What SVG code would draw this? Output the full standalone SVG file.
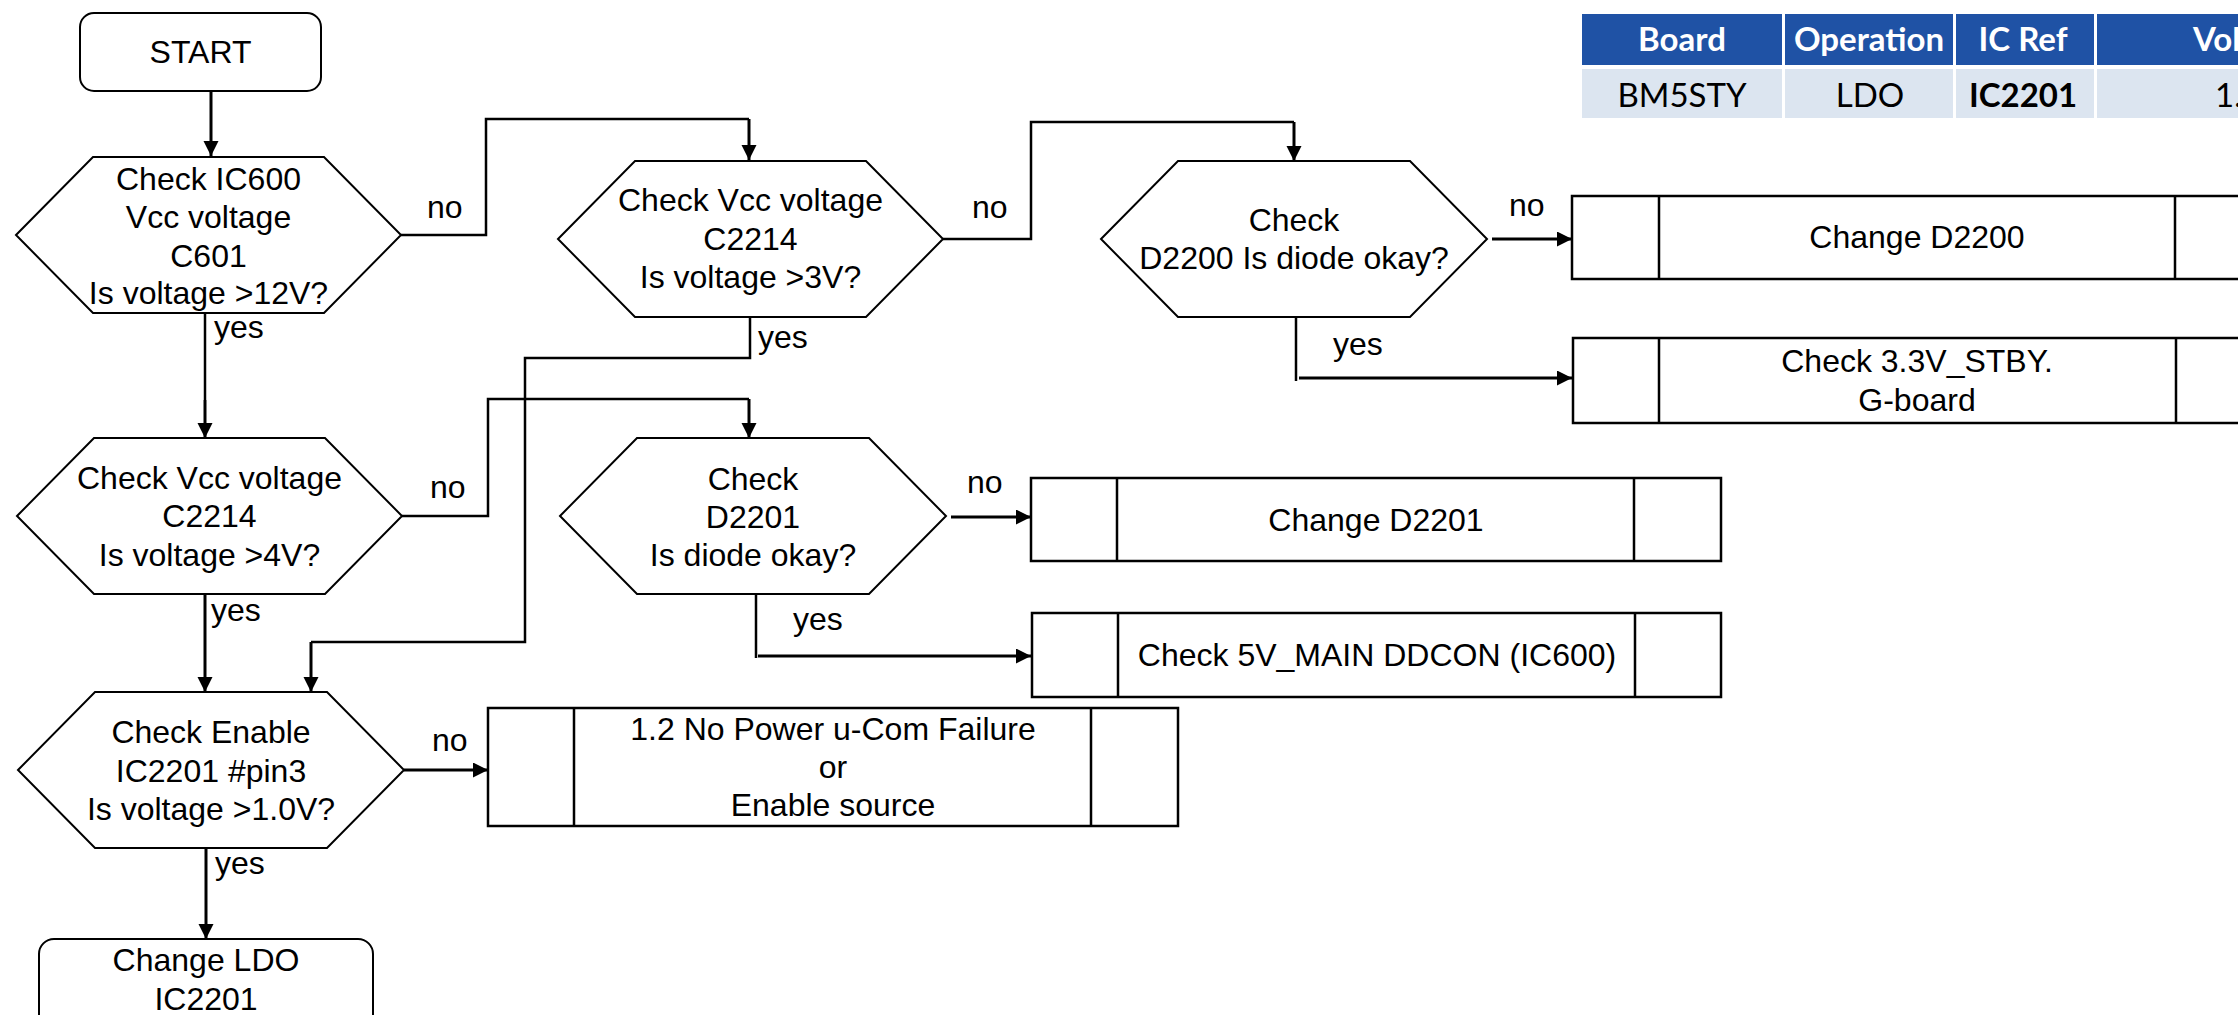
<svg xmlns="http://www.w3.org/2000/svg" width="2238" height="1015" viewBox="0 0 2238 1015">
<defs>
<style>
.shape{fill:#fff;stroke:#000;stroke-width:2}
.box{fill:#fff;stroke:#000;stroke-width:2.5}
.t{font-family:"Liberation Sans",Arial,sans-serif;font-size:32px;fill:#000;text-anchor:middle}
.lbl{font-family:"Liberation Sans",Arial,sans-serif;font-size:32px;fill:#000}
.c{fill:none;stroke:#000;stroke-width:2.5}
.a{fill:none;stroke:#000;stroke-width:3;marker-end:url(#ah)}
.th{fill:#1F52A5}
.tb{fill:#DCE5F0}
.tt{font-family:Lato,"Open Sans",sans-serif;font-size:33px;text-anchor:middle}
</style>
<marker id="ah" markerUnits="userSpaceOnUse" markerWidth="16" markerHeight="16" refX="15" refY="7.5" orient="auto">
<path d="M0,0 L15,7.5 L0,15 z" fill="#000"/>
</marker>
</defs>
<rect width="2238" height="1015" fill="#fff"/>

<g id="table">
<rect class="th" x="1582" y="14" width="200" height="51"/>
<rect class="th" x="1785" y="14" width="168" height="51"/>
<rect class="th" x="1956" y="14" width="138" height="51"/>
<rect class="th" x="2097" y="14" width="150" height="51"/>
<rect class="tb" x="1582" y="69" width="200" height="49"/>
<rect class="tb" x="1785" y="69" width="168" height="49"/>
<rect class="tb" x="1956" y="69" width="138" height="49"/>
<rect class="tb" x="2097" y="69" width="150" height="49"/>
<text class="tt" x="1682" y="51" fill="#fff" font-weight="bold">Board</text>
<text class="tt" x="1869" y="51" fill="#fff" font-weight="bold">Operation</text>
<text class="tt" x="2023" y="51" fill="#fff" font-weight="bold">IC Ref</text>
<text class="tt" x="2193" y="51" fill="#fff" font-weight="bold" text-anchor="start" style="text-anchor:start">Vol</text>
<text class="tt" x="1682" y="107" fill="#000">BM5STY</text>
<text class="tt" x="1870" y="107" fill="#000">LDO</text>
<text class="tt" x="2023" y="107" fill="#000" font-weight="bold">IC2201</text>
<text class="tt" x="2215" y="107" fill="#000" style="text-anchor:start">1.</text>
</g>

<g id="connectors">
<path class="a" d="M211,91 V156"/>
<path class="c" d="M401,235 H486 V119 H749"/>
<path class="a" d="M749,119 V160"/>
<path class="c" d="M205,313 V400"/>
<path class="a" d="M205,400 V438"/>
<path class="c" d="M943,239 H1031 V122 H1294"/>
<path class="a" d="M1294,122 V161"/>
<path class="c" d="M750,317 V358 H525 V642 H311"/>
<path class="a" d="M311,642 V692"/>
<path class="c" d="M402,516 H488 V399 H749"/>
<path class="a" d="M749,399 V438"/>
<path class="a" d="M205,594 V692"/>
<path class="a" d="M404,770 H488"/>
<path class="a" d="M206,848 V939"/>
<path class="a" d="M951,517 H1031"/>
<path class="c" d="M756,594 V658"/>
<path class="a" d="M758,656 H1031"/>
<path class="a" d="M1492,239 H1572"/>
<path class="c" d="M1296,317 V381"/>
<path class="a" d="M1299,378 H1572"/>
</g>

<g id="labels">
<text class="lbl" x="427" y="218">no</text>
<text class="lbl" x="214" y="338">yes</text>
<text class="lbl" x="972" y="218">no</text>
<text class="lbl" x="758" y="348">yes</text>
<text class="lbl" x="1509" y="216">no</text>
<text class="lbl" x="1333" y="355">yes</text>
<text class="lbl" x="430" y="498">no</text>
<text class="lbl" x="211" y="621">yes</text>
<text class="lbl" x="967" y="493">no</text>
<text class="lbl" x="793" y="630">yes</text>
<text class="lbl" x="432" y="751">no</text>
<text class="lbl" x="215" y="874">yes</text>
</g>

<g id="start">
<rect class="shape" x="80" y="13" width="241" height="78" rx="14"/>
<text class="t" x="200.5" y="63">START</text>
</g>

<g id="q1">
<polygon class="shape" points="16,235 93,157 324,157 401,235 324,313 93,313"/>
<text class="t" x="208.5" y="190">Check IC600</text>
<text class="t" x="208.5" y="228">Vcc voltage</text>
<text class="t" x="208.5" y="267">C601</text>
<text class="t" x="208.5" y="304">Is voltage &gt;12V?</text>
</g>

<g id="q2">
<polygon class="shape" points="558,239 635,161 866,161 943,239 866,317 635,317"/>
<text class="t" x="750.5" y="211">Check Vcc voltage</text>
<text class="t" x="750.5" y="250">C2214</text>
<text class="t" x="750.5" y="288">Is voltage &gt;3V?</text>
</g>

<g id="q3">
<polygon class="shape" points="17,516 94,438 325,438 402,516 325,594 94,594"/>
<text class="t" x="209.5" y="489">Check Vcc voltage</text>
<text class="t" x="209.5" y="527">C2214</text>
<text class="t" x="209.5" y="566">Is voltage &gt;4V?</text>
</g>

<g id="q4">
<polygon class="shape" points="18,770 95,692 327,692 404,770 327,848 95,848"/>
<text class="t" x="211" y="743">Check Enable</text>
<text class="t" x="211" y="782">IC2201 #pin3</text>
<text class="t" x="211" y="820">Is voltage &gt;1.0V?</text>
</g>

<g id="q5">
<polygon class="shape" points="560,516 637,438 869,438 946,516 869,594 637,594"/>
<text class="t" x="753" y="490">Check</text>
<text class="t" x="753" y="528">D2201</text>
<text class="t" x="753" y="566">Is diode okay?</text>
</g>

<g id="q6">
<polygon class="shape" points="1101,239 1178,161 1410,161 1487,239 1410,317 1178,317"/>
<text class="t" x="1294" y="231">Check</text>
<text class="t" x="1294" y="269">D2200 Is diode okay?</text>
</g>

<g id="change-d2200">
<rect class="box" x="1572" y="196" width="690" height="83"/>
<path class="box" d="M1659,196 V279 M2175,196 V279"/>
<text class="t" x="1917" y="248">Change D2200</text>
</g>

<g id="check-33v">
<rect class="box" x="1573" y="338" width="690" height="85"/>
<path class="box" d="M1659,338 V423 M2176,338 V423"/>
<text class="t" x="1917" y="372">Check 3.3V_STBY.</text>
<text class="t" x="1917" y="411">G-board</text>
</g>

<g id="change-d2201">
<rect class="box" x="1031" y="478" width="690" height="83"/>
<path class="box" d="M1117,478 V561 M1634,478 V561"/>
<text class="t" x="1376" y="531">Change D2201</text>
</g>

<g id="check-5v">
<rect class="box" x="1032" y="613" width="689" height="84"/>
<path class="box" d="M1118,613 V697 M1635,613 V697"/>
<text class="t" x="1377" y="666">Check 5V_MAIN DDCON (IC600)</text>
</g>

<g id="no-power">
<rect class="box" x="488" y="708" width="690" height="118"/>
<path class="box" d="M574,708 V826 M1091,708 V826"/>
<text class="t" x="833" y="740">1.2 No Power u-Com Failure</text>
<text class="t" x="833" y="778">or</text>
<text class="t" x="833" y="816">Enable source</text>
</g>

<g id="change-ldo">
<rect class="shape" x="39" y="939" width="334" height="110" rx="15"/>
<text class="t" x="206" y="971">Change LDO</text>
<text class="t" x="206" y="1010">IC2201</text>
</g>
</svg>
